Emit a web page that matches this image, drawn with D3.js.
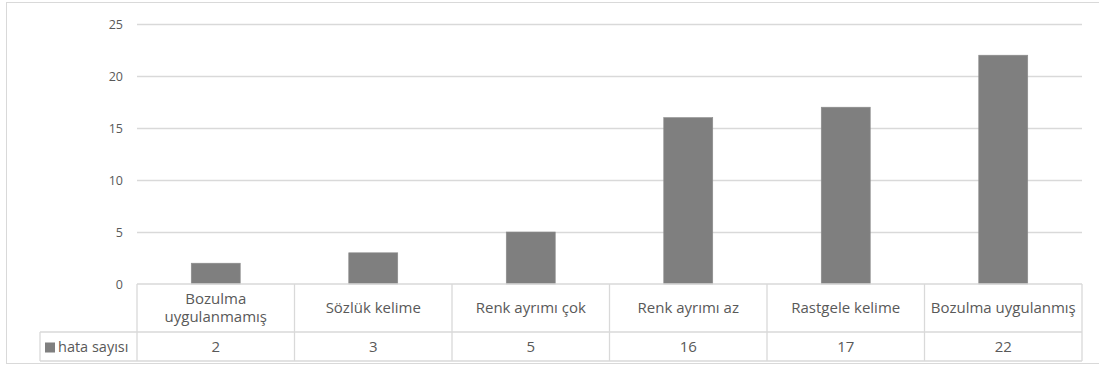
<!DOCTYPE html>
<html>
<head>
<meta charset="utf-8">
<script src="https://cdn.jsdelivr.net/npm/d3@7"></script>
<style>
  html, body { margin: 0; padding: 0; background: #fff; }
  svg { display: block; font-family: "Open Sans", sans-serif; }
</style>
</head>
<body>
<svg id="chart" width="1099" height="367"></svg>
<script>
// Error counts per distortion type
const categories = [
  ["Bozulma", "uygulanmamış"],
  ["Sözlük kelime"],
  ["Renk ayrımı çok"],
  ["Renk ayrımı az"],
  ["Rastgele kelime"],
  ["Bozulma uygulanmış"]
];
const seriesName = "hata sayısı";
const values = [2, 3, 5, 16, 17, 22];
const yTicks = [0, 5, 10, 15, 20, 25];

const svg = d3.select("#chart");
const textColor = "#595959";
const lineColor = "#d9d9d9";
const barColor = "#7f7f7f";
const fontFamily = "'Open Sans', sans-serif";

const plot = { left: 137, right: 1082, top: 24, bottom: 284 };
const table = { legendLeft: 40, row1: 284, row2: 332, bottom: 361 };

// outer chart frame
svg.append("rect")
  .attr("x", 6.5).attr("y", 2.5)
  .attr("width", 1110).attr("height", 361)
  .attr("fill", "none").attr("stroke", lineColor).attr("stroke-width", 1);

const idx = d3.range(categories.length);
const x = d3.scaleBand().domain(idx).range([plot.left, plot.right]).paddingInner(0).paddingOuter(0);
const y = d3.scaleLinear().domain([0, 25]).range([plot.bottom, plot.top]);

// horizontal gridlines
svg.append("g").selectAll("line").data(yTicks.filter(t => t > 0)).join("line")
  .attr("x1", plot.left).attr("x2", plot.right)
  .attr("y1", d => Math.round(y(d)) + 0.5).attr("y2", d => Math.round(y(d)) + 0.5)
  .attr("stroke", lineColor).attr("stroke-width", 1.3);

// y axis tick labels
const yAxis = d3.axisLeft(y).tickValues(yTicks).tickSize(0).tickPadding(0);
const gy = svg.append("g").attr("transform", `translate(${plot.left - 14},0)`).call(yAxis);
gy.select(".domain").remove();
gy.selectAll("text").attr("fill", textColor).style("font-size", "12.5px")
  .style("font-family", fontFamily);

// bars
const barW = 49;
svg.append("g").selectAll("rect").data(values).join("rect")
  .attr("x", (d, i) => x(i) + x.bandwidth() / 2 - barW / 2)
  .attr("width", barW)
  .attr("y", d => y(d))
  .attr("height", d => y(0) - y(d))
  .attr("fill", barColor)
  .attr("stroke", "#8c8c8c").attr("stroke-width", 0.6);

// data table grid
const grid = svg.append("g").attr("stroke", lineColor).attr("stroke-width", 1.3).attr("fill", "none");
grid.append("line").attr("x1", plot.left).attr("x2", plot.right).attr("y1", table.row1).attr("y2", table.row1);
grid.append("line").attr("x1", table.legendLeft).attr("x2", plot.right).attr("y1", table.row2).attr("y2", table.row2);
grid.append("line").attr("x1", table.legendLeft).attr("x2", plot.right).attr("y1", table.bottom).attr("y2", table.bottom);
grid.append("line").attr("x1", table.legendLeft).attr("x2", table.legendLeft).attr("y1", table.row2).attr("y2", table.bottom);
const bounds = idx.map(i => x(i)).concat([plot.right]);
grid.selectAll("line.v").data(bounds).join("line").attr("class", "v")
  .attr("x1", d => d).attr("x2", d => d)
  .attr("y1", table.row1).attr("y2", table.bottom);

// category labels (two-line labels stacked in separate text nodes)
const catG = svg.append("g").attr("fill", textColor).style("font-size", "15px").attr("text-anchor", "middle");
categories.forEach((lines, i) => {
  const cx = x(i) + x.bandwidth() / 2;
  const midY = (table.row1 + table.row2) / 2 - 0.5;
  const lh = 18.5;
  lines.forEach((ln, k) => {
    catG.append("text").attr("x", cx)
      .attr("y", midY + (k - (lines.length - 1) / 2) * lh)
      .attr("dy", "0.35em").text(ln);
  });
});

// value row
svg.append("g").attr("fill", textColor).style("font-size", "15px").attr("text-anchor", "middle")
  .selectAll("text").data(values).join("text")
  .attr("x", (d, i) => x(i) + x.bandwidth() / 2)
  .attr("y", (table.row2 + table.bottom) / 2).attr("dy", "0.35em")
  .text(d => d);

// legend key
svg.append("rect").attr("x", 45).attr("y", 342.5).attr("width", 10).attr("height", 10).attr("fill", barColor);
svg.append("text").attr("x", 58).attr("y", (table.row2 + table.bottom) / 2).attr("dy", "0.35em")
  .attr("fill", textColor).style("font-size", "14.5px").text(seriesName);
</script>
</body>
</html>
